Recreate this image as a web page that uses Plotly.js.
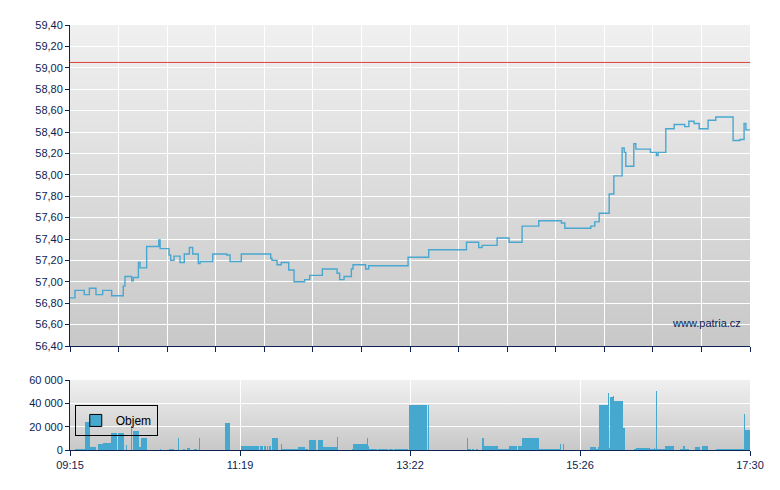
<!DOCTYPE html>
<html>
<head>
<meta charset="utf-8">
<script src="https://cdn.plot.ly/plotly-3.0.1.min.js"></script>
<style>html,body{margin:0;padding:0;background:#fff;}#chart{width:780px;height:490px;}</style>
</head>
<body>
<div id="chart"></div>
<script>
// ---- Data (times in minutes after 09:15 open) ----
const sessionLength = 495; // 09:15 -> 17:30
const timeTickLabels = ["09:15", "11:19", "13:22", "15:26", "17:30"];
const referencePrice = 59.05;

const priceTime = [0, 3.6, 10.4, 14.1, 18.9, 23.8, 30.3, 38.8, 40.0, 44.9, 46.1, 49.8, 51.0, 55.8, 64.6, 65.6,
  72.1, 73.3, 75.7, 80.1, 83.2, 86.9, 89.3, 93.4, 94.7, 103.9, 114.1, 116.5, 124.7, 146.1, 147.0, 150.7,
  153.8, 159.2, 163.1, 170.8, 174.5, 183.7, 194.4, 196.3, 199.5, 204.8, 206.0, 215.2, 217.4, 246.1, 261.1,
  288.6, 297.5, 300.0, 310.9, 319.6, 329.1, 341.2, 357.7, 360.2, 379.1, 382.0, 385.2, 392.5, 395.9, 401.9,
  403.4, 404.6, 410.4, 411.9, 422.5, 426.9, 428.1, 433.7, 439.8, 447.5, 450.5, 454.3, 458.0, 464.5, 470.1,
  482.7, 487.6, 490.7, 492.0, 495.0];
const priceValue = [56.85, 56.92, 56.88, 56.94, 56.88, 56.92, 56.87, 56.96, 57.05, 57.01, 57.04, 57.18, 57.13, 57.33, 57.39, 57.31,
  57.25, 57.20, 57.24, 57.18, 57.26, 57.32, 57.26, 57.17, 57.19, 57.26, 57.25, 57.19, 57.26, 57.22, 57.20, 57.16,
  57.18, 57.11, 57.00, 57.02, 57.06, 57.12, 57.08, 57.02, 57.05, 57.12, 57.16, 57.12, 57.15, 57.23, 57.30,
  57.37, 57.32, 57.34, 57.41, 57.37, 57.52, 57.57, 57.55, 57.50, 57.52, 57.56, 57.64, 57.82, 57.99, 58.25,
  58.21, 58.08, 58.29, 58.24, 58.21, 58.18, 58.21, 58.43, 58.47, 58.45, 58.50, 58.48, 58.43, 58.51, 58.54,
  58.32, 58.33, 58.48, 58.42, 58.42];

const volStart = [3.6, 10.9, 14.6, 20.4, 23.8, 29.6, 34.7, 40.8, 44.5, 46.2, 50.5, 51.5, 65.6, 71.7, 78.5, 82.6,
  85.0, 89.9, 93.6, 113.0, 124.4, 134.9, 138.5, 141.0, 143.4, 144.8, 147.3, 153.3, 154.1, 166.2, 171.1, 174.2,
  180.8, 183.9, 194.6, 205.0, 205.8, 216.0, 217.2, 217.9, 224.0, 232.0, 236.1, 246.5, 260.4, 288.8, 289.5,
  292.4, 295.3, 299.7, 301.6, 311.3, 319.8, 326.4, 328.8, 341.2, 357.0, 358.7, 378.8, 382.7, 384.2, 384.9,
  391.5, 392.2, 392.9, 395.1, 395.6, 396.3, 402.4, 410.4, 412.1, 422.5, 425.0, 425.7, 426.4, 427.1, 433.0,
  443.9, 446.1, 447.5, 449.2, 454.6, 459.9, 470.1, 490.5, 491.7];
const volEnd = [10.9, 14.6, 19.0, 23.8, 29.6, 34.0, 39.4, 41.3, 45.2, 50.5, 51.5, 56.4, 66.3, 75.8, 79.5, 83.8,
  87.5, 92.3, 94.3, 116.6, 134.4, 137.5, 140.5, 142.9, 144.1, 146.3, 151.6, 154.1, 166.2, 171.1, 173.0, 178.8,
  183.9, 194.6, 195.3, 205.8, 216.0, 217.2, 217.9, 223.2, 231.3, 234.9, 246.3, 259.7, 261.1, 289.5, 291.7,
  294.4, 297.3, 301.6, 311.3, 319.8, 325.7, 328.8, 341.2, 357.0, 357.7, 359.4, 382.7, 384.2, 384.9, 391.5,
  392.2, 392.9, 395.1, 395.6, 396.3, 402.4, 404.3, 412.1, 422.5, 425.0, 425.7, 426.4, 427.1, 433.0, 439.5,
  446.1, 447.5, 449.2, 450.4, 458.4, 464.3, 490.5, 491.7, 495.0];
const volValue = [900, 24000, 2500, 5000, 6000, 14500, 14500, 4400, 20600, 16000, 3000, 10500, 600, 900, 10300, 900,
  1500, 900, 10300, 23500, 3800, 3800, 3800, 3800, 3800, 3800, 10300, 5000, 900, 2700, 900, 8500,
  8500, 2700, 11200, 900, 5000, 10300, 3200, 900, 900, 900, 900, 38800, 38800, 10300, 900,
  900, 900, 10300, 3500, 900, 3500, 3500, 10300, 600, 5000, 5000, 2400, 600, 2400, 38500,
  49000, 1500, 45500, 1500, 46400, 42000, 19100, 600, 1500, 600, 1500, 600, 50900, 600, 3200,
  600, 3200, 1200, 600, 2400, 3200, 600, 30600, 17300];

// ---- Styling ----
const navy = '#0d2352';
const lineBlue = '#4aa7cf';
const barBlue = '#46a7cf';
const fontFam = 'Liberation Sans, Arial, sans-serif';

const priceTicks = [];
for (let i = 0; i <= 14; i++) priceTicks.push(i * sessionLength / 14);
const labelTicks = timeTickLabels.map((_, i) => i * sessionLength / (timeTickLabels.length - 1));

function gradient(top, bottom) {
  const svg = '<svg xmlns="http://www.w3.org/2000/svg" width="10" height="100" viewBox="0 0 10 100" preserveAspectRatio="none">' +
    '<defs><linearGradient id="g" x1="0" y1="0" x2="0" y2="1"><stop offset="0" stop-color="' + top + '"/>' +
    '<stop offset="1" stop-color="' + bottom + '"/></linearGradient></defs><rect width="10" height="100" fill="url(#g)"/></svg>';
  return 'data:image/svg+xml;charset=utf-8,' + encodeURIComponent(svg);
}

const traces = [
  {
    type: 'scatter', mode: 'lines', x: [0, sessionLength], y: [referencePrice, referencePrice],
    line: {color: '#e0403a', width: 1}, xaxis: 'x', yaxis: 'y', showlegend: false, hoverinfo: 'skip'
  },
  {
    type: 'scatter', mode: 'lines', x: priceTime, y: priceValue,
    line: {color: lineBlue, width: 1.4, shape: 'hv'}, xaxis: 'x', yaxis: 'y', showlegend: false, name: 'Cena'
  },
  {
    type: 'bar', x: volStart, y: volValue, width: volStart.map((s, i) => volEnd[i] - s), offset: 0,
    marker: {color: barBlue, line: {width: 0}}, xaxis: 'x2', yaxis: 'y2', showlegend: false, name: 'Objem'
  },
  {
    type: 'bar', x: [null], y: [null], name: 'Objem',
    marker: {color: barBlue, line: {color: '#000', width: 1}}, xaxis: 'x2', yaxis: 'y2', showlegend: true
  }
];

const commonAxis = {
  ticks: 'outside', tickcolor: navy, tickwidth: 1, showline: true, linecolor: navy, linewidth: 1,
  gridcolor: '#ffffff', gridwidth: 1, zeroline: false, tickfont: {family: fontFam, size: 11, color: navy}
};

const layout = {
  width: 780, height: 490,
  margin: {l: 70, r: 30, t: 25, b: 40},
  paper_bgcolor: '#ffffff', plot_bgcolor: 'rgba(0,0,0,0)',
  separators: ', ',
  font: {family: fontFam, size: 11, color: navy},
  bargap: 0,
  xaxis: Object.assign({}, commonAxis, {
    domain: [0, 1], range: [0, sessionLength], anchor: 'y', tickmode: 'array', tickvals: priceTicks,
    showticklabels: false, ticklen: 5
  }),
  yaxis: Object.assign({}, commonAxis, {
    domain: [0.2447, 1], range: [56.4, 59.4], tick0: 56.4, dtick: 0.2, tickformat: '.2f', ticklen: 4, anchor: 'x'
  }),
  xaxis2: Object.assign({}, commonAxis, {
    domain: [0, 1], range: [0, sessionLength], anchor: 'y2', tickmode: 'array', tickvals: labelTicks,
    ticktext: timeTickLabels, ticklen: 5
  }),
  yaxis2: Object.assign({}, commonAxis, {
    domain: [0, 0.1647], range: [0, 60000], tick0: 0, dtick: 20000, tickformat: ',.0f', ticklen: 4, anchor: 'x2'
  }),
  images: [
    {source: gradient('#f0f0f0', '#c8c8c8'), xref: 'x domain', yref: 'y domain', x: 0, y: 1, sizex: 1, sizey: 1,
      xanchor: 'left', yanchor: 'top', sizing: 'stretch', layer: 'below'},
    {source: gradient('#f0f0f0', '#c8c8c8'), xref: 'x2 domain', yref: 'y2 domain', x: 0, y: 1, sizex: 1, sizey: 1,
      xanchor: 'left', yanchor: 'top', sizing: 'stretch', layer: 'below'}
  ],
  annotations: [
    {text: 'www.patria.cz', xref: 'x domain', yref: 'y domain', x: 0.99, y: 0.072, xanchor: 'right', yanchor: 'middle',
      showarrow: false, font: {family: fontFam, size: 11, color: navy}}
  ],
  showlegend: true,
  legend: {
    x: 0.007, y: 0.106, xanchor: 'left', yanchor: 'top', bgcolor: 'rgba(0,0,0,0)', bordercolor: '#000', borderwidth: 1,
    font: {family: fontFam, size: 12, color: '#000'}, itemwidth: 30
  }
};

Plotly.newPlot('chart', traces, layout, {staticPlot: true, displayModeBar: false});
</script>
</body>
</html>
